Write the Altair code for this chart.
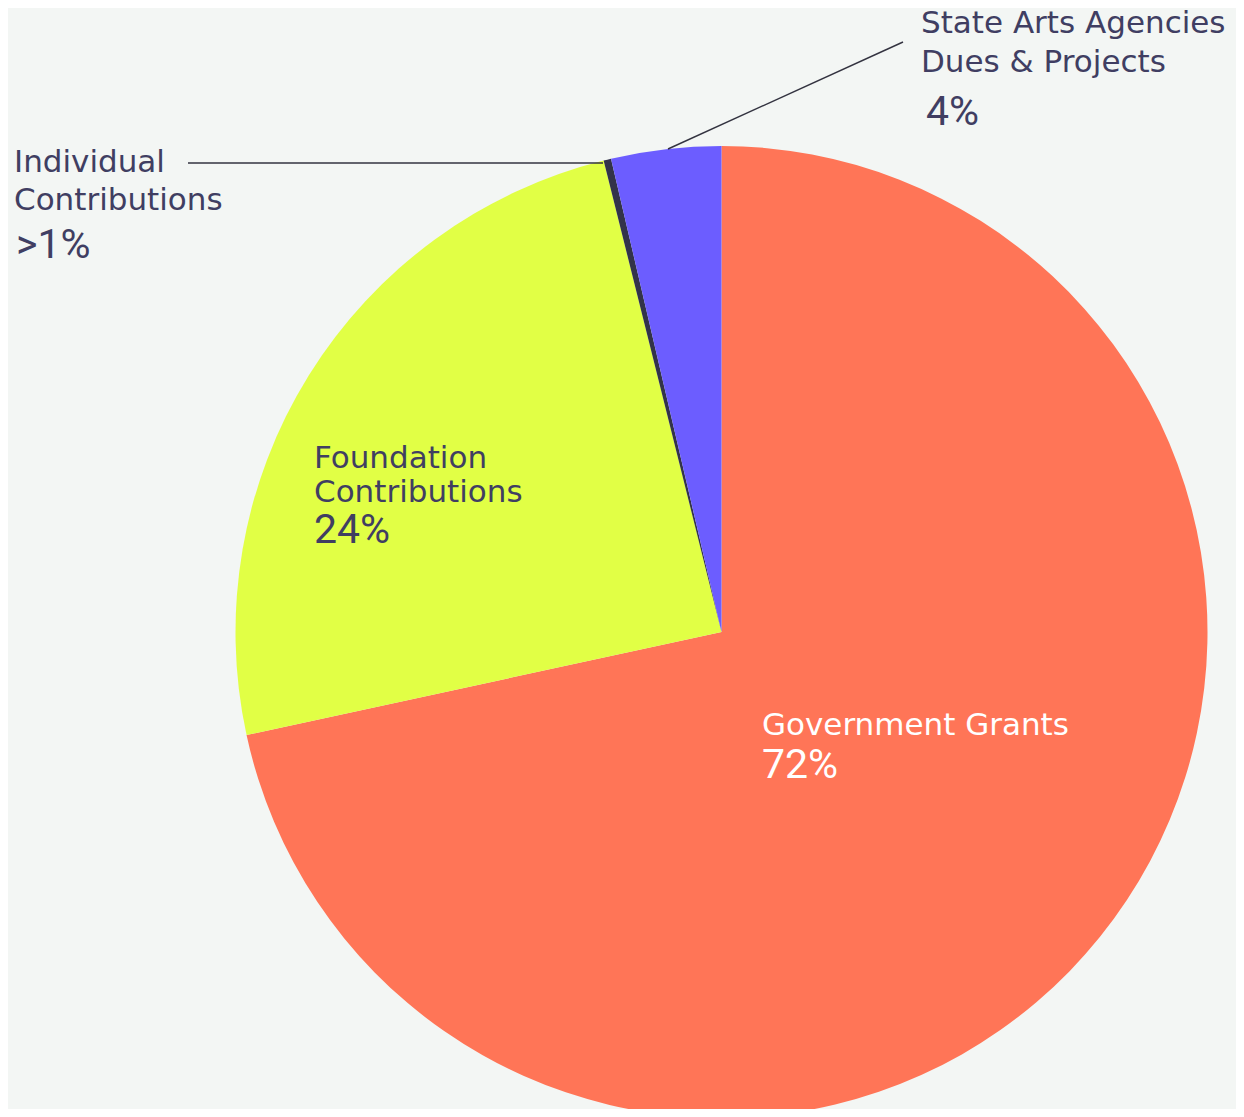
import altair as alt
import pandas as pd

# ---- data ----
categories = ["Government Grants", "Foundation Contributions",
              "Individual Contributions", "State Arts Agencies Dues & Projects"]
shares = [71.6, 24.5, 0.25, 3.65]
colors = ["#FF7557", "#E1FF45", "#33334A", "#6C5DFF"]
label_lines = [["Government Grants"], ["Foundation", "Contributions"],
               ["Individual", "Contributions"], ["State Arts Agencies", "Dues & Projects"]]
pct_labels = ["72%", "24%", ">1%", "4%"]

FONT = "DejaVu Sans"
PFONT = "Roboto"
INK = "#403E62"
BG = "#F3F6F4"

df = pd.DataFrame({"category": categories, "share": shares, "order": list(range(len(categories)))})

pie = alt.Chart(df).mark_arc(outerRadius=486).encode(
    theta=alt.Theta("share:Q", stack=True),
    order=alt.Order("order:Q"),
    color=alt.Color("category:N", scale=alt.Scale(domain=categories, range=colors), legend=None),
    x=alt.value(713.5),
    y=alt.value(624),
)

# label placements (annotation layout)
label_pos = [
    dict(x=754, ys=[727], px=754, py=770, color="#FFFFFF"),
    dict(x=306, ys=[460, 494], px=306, py=535, color=INK),
    dict(x=6, ys=[164, 202], px=8, py=250, color=INK),
    dict(x=913, ys=[25, 64], px=918, py=117, color=INK),
]

layers = [pie]
for lines, pct, pos in zip(label_lines, pct_labels, label_pos):
    for line, yy in zip(lines, pos["ys"]):
        layers.append(
            alt.Chart(pd.DataFrame({"t": [line]})).mark_text(
                align="left", baseline="alphabetic", font=FONT, fontSize=31, color=pos["color"]
            ).encode(text="t:N", x=alt.value(pos["x"]), y=alt.value(yy))
        )
    layers.append(
        alt.Chart(pd.DataFrame({"t": [pct]})).mark_text(
            align="left", baseline="alphabetic", font=PFONT, fontSize=41, color=pos["color"]
        ).encode(text="t:N", x=alt.value(pos["px"]), y=alt.value(pos["py"]))
    )

# leader lines
leaders = [
    dict(x=180, y=155, x2=595, y2=155),
    dict(x=660, y=141, x2=895, y2=34),
]
for ld in leaders:
    layers.append(
        alt.Chart(pd.DataFrame({"a": [0]})).mark_rule(color="#333340", strokeWidth=1.5).encode(
            x=alt.value(ld["x"]), y=alt.value(ld["y"]),
            x2=alt.value(ld["x2"]), y2=alt.value(ld["y2"]),
        )
    )

chart = alt.layer(*layers).properties(
    width=1228, height=1101,
    autosize=alt.AutoSizeParams(type="none"),
    padding=0,
    background=BG,
).configure_view(stroke=None)

chart.save("out.html", embed_options={"renderer": "svg", "actions": False})
